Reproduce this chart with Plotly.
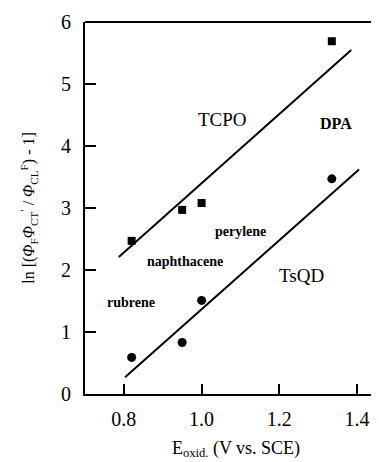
import plotly.graph_objects as go

# Data
tcpo_x = [0.82, 0.95, 1.00, 1.335]
tcpo_y = [2.47, 2.97, 3.08, 5.69]
tsqd_x = [0.82, 0.95, 1.00, 1.335]
tsqd_y = [0.59, 0.83, 1.51, 3.47]

tcpo_fit_x = [0.787, 1.385]
tcpo_fit_y = [2.21, 5.55]
tsqd_fit_x = [0.803, 1.405]
tsqd_fit_y = [0.27, 3.62]

labels = ["TCPO", "DPA", "perylene", "naphthacene", "TsQD", "rubrene"]
label_x = [1.055, 1.346, 1.099, 0.957, 1.258, 0.818]
label_y = [4.42, 4.36, 2.62, 2.14, 1.91, 1.48]
label_bold = [False, True, True, True, False, True]
label_size = [19, 16, 14, 14, 19, 14]

x_ticks = [0.8, 1.0, 1.2, 1.4]
x_ticktext = ["0.8", "1.0", "1.2", "1.4"]
y_ticks = [0, 1, 2, 3, 4, 5, 6]

FONT = "Liberation Serif, Times New Roman, serif"

fig = go.Figure()
fig.add_trace(go.Scatter(x=tcpo_fit_x, y=tcpo_fit_y, mode="lines",
                         line=dict(color="black", width=2), showlegend=False))
fig.add_trace(go.Scatter(x=tsqd_fit_x, y=tsqd_fit_y, mode="lines",
                         line=dict(color="black", width=2), showlegend=False))
fig.add_trace(go.Scatter(x=tcpo_x, y=tcpo_y, mode="markers",
                         marker=dict(symbol="square", size=8, color="black"),
                         showlegend=False))
fig.add_trace(go.Scatter(x=tsqd_x, y=tsqd_y, mode="markers",
                         marker=dict(symbol="circle", size=9, color="black"),
                         showlegend=False))

for t, x, y, b, s in zip(labels, label_x, label_y, label_bold, label_size):
    fig.add_annotation(x=x, y=y, text=f"<b>{t}</b>" if b else t, showarrow=False,
                       font=dict(family=FONT, size=s, color="black"))

fig.add_shape(type="line", xref="paper", yref="paper", x0=0, x1=1, y0=1, y1=1,
              line=dict(color="black", width=2))

fig.update_layout(
    width=379, height=462,
    margin=dict(l=77, r=0, t=14, b=76),
    paper_bgcolor="white", plot_bgcolor="white",
    font=dict(family=FONT, size=20, color="black"),
    xaxis=dict(range=[0.7, 1.477], tickvals=x_ticks, ticktext=x_ticktext,
               ticks="inside", ticklen=10, tickwidth=2, tickcolor="black",
               showline=True, linecolor="black", linewidth=2,
               showgrid=False, zeroline=False, ticklabelstandoff=6,
               tickfont=dict(size=20),
               title=dict(text="E<sub>oxid.</sub> (V vs. SCE)", standoff=12,
                          font=dict(size=18))),
    yaxis=dict(range=[0, 6], tickvals=y_ticks,
               ticks="inside", ticklen=11, tickwidth=2, tickcolor="black",
               showline=True, linecolor="black", linewidth=2,
               showgrid=False, zeroline=False, ticklabelstandoff=8,
               tickfont=dict(size=20),
               title=dict(text="ln [(<i>Φ</i><sub>F</sub><i>Φ</i><sub>CT</sub><sup>′</sup> / <i>Φ</i><sub>CL</sub><sup>F</sup>) - 1]",
                          standoff=22, font=dict(size=16))),
)

fig.write_html("out.html")
